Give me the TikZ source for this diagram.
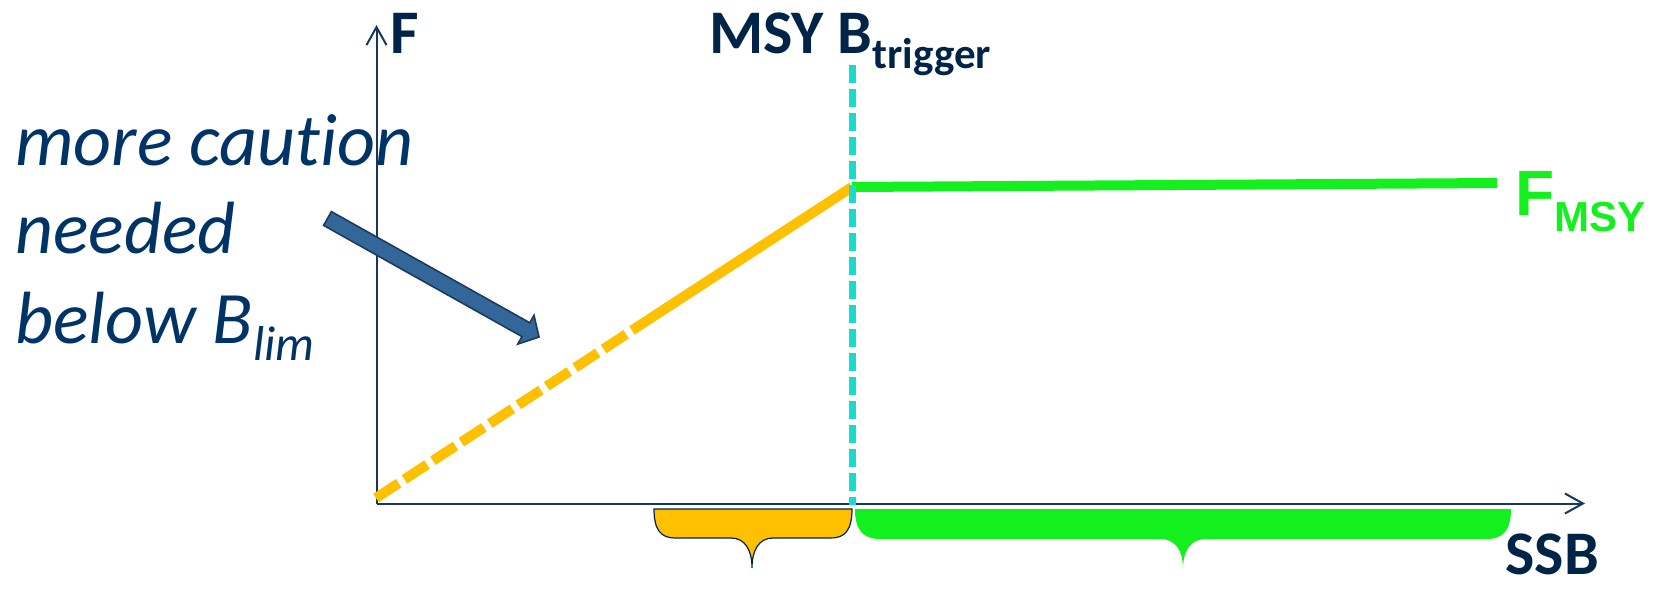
\documentclass[tikz,border=0pt]{standalone}
\usepackage{fontspec}
\setmainfont{Carlito}[Ligatures={NoCommon,NoDiscretionary}]
\newfontfamily\arialfont{Liberation Sans}
\usetikzlibrary{arrows.meta}
\definecolor{navytext}{RGB}{0,36,72}
\definecolor{captext}{RGB}{0,51,102}
\definecolor{axiscol}{RGB}{23,55,94}
\definecolor{orangeline}{RGB}{255,192,0}
\definecolor{greenline}{RGB}{20,240,30}
\definecolor{cyanline}{RGB}{23,219,204}
\definecolor{arrowfill}{RGB}{51,102,153}
\definecolor{arrowdraw}{RGB}{28,58,94}
\begin{document}
\begin{tikzpicture}[x=0.5pt,y=-0.5pt,
  axisline/.style={draw=axiscol,line width=1pt,-{Straight Barb[length=9pt,width=10pt,line width=1pt]}},
  bigbold/.style={font=\bfseries\fontsize{31}{37}\selectfont,text=navytext,inner sep=0pt,anchor=base west},
  captionstyle/.style={font=\itshape\fontsize{37}{44}\selectfont,text=captext,inner sep=0pt,anchor=base west},
  dashedorange/.style={draw=orangeline,line width=5pt,dash pattern=on 13.5pt off 3.5pt},
  solidorange/.style={draw=orangeline,line width=5pt},
  greenrule/.style={draw=greenline,line width=5pt},
  cyandash/.style={draw=cyanline,line width=3.5pt,dash pattern=on 9pt off 3pt},
  bracefill/.style={line width=0.6pt}
]
\useasboundingbox (0,0) rectangle (1659,589);

% caption text
\node[captionstyle] (cap1) at (15,165) {more caution};
\node[captionstyle] (cap2) at (15,253) {needed};
\node[captionstyle] (cap3) at (15,343) {below B\raisebox{-8.5pt}{\fontsize{24.5}{28}\selectfont lim}};

% key points
\coordinate (origin) at (376.5,503.5);
\coordinate (ytop) at (376.5,25);
\coordinate (xend) at (1585,503.5);
\coordinate (ostart) at (376,498);
\coordinate (omid) at (654,316);
\coordinate (trig) at (852,187);
\coordinate (gend) at (1497,183);
\coordinate (ctop) at (852.5,65);
\coordinate (cbot) at (852.5,505);

% axes
\draw[axisline] (origin) -- (ytop);
\draw[axisline] (origin) -- (xend);

% block arrow
\draw[fill=arrowfill,draw=arrowdraw,line width=0.8pt,line join=miter]
  (331.4,211.6) -- (529.8,322.8) -- (534.0,315.3) -- (539,337) -- (517.8,344.1)
  -- (522.0,336.6) -- (323.6,225.4) -- cycle;

% harvest control rule
\draw[dashedorange] (ostart) -- (omid);
\draw[solidorange] (omid) -- (trig);
\draw[greenrule] (trig) -- (gend);
\draw[cyandash] (ctop) -- (cbot);

% braces
\draw[bracefill,fill=orangeline,draw=navytext]
  (654,509) .. controls (654,530) and (661,538) .. (675,538) -- (731,538)
  .. controls (745,538) and (752,550) .. (752,568)
  .. controls (752,550) and (759,538) .. (773,538) -- (831,538)
  .. controls (845,538) and (852,530) .. (852,509) -- cycle;
\fill[greenline]
  (855,509) .. controls (855,530) and (863,539) .. (880,539) -- (1160,539)
  .. controls (1175,539) and (1183,550) .. (1183,569)
  .. controls (1183,550) and (1191,539) .. (1206,539) -- (1487,539)
  .. controls (1503,539) and (1511,530) .. (1511,509) -- cycle;

% labels
\node[bigbold] (flabel) at (390,54) {F};
\node[bigbold] (msylabel) at (709,53) {MSY B\raisebox{-7.5pt}{\fontsize{21.5}{24}\selectfont trigger}};
\node[bigbold] (ssblabel) at (1505,574) {SSB};
\node[font=\arialfont\bfseries\fontsize{32}{38}\selectfont,text=greenline,inner sep=0pt,anchor=base west] (fmsy) at (1515,215) {F\raisebox{-8pt}{\fontsize{21}{24}\selectfont MSY}};
\end{tikzpicture}
\end{document}
